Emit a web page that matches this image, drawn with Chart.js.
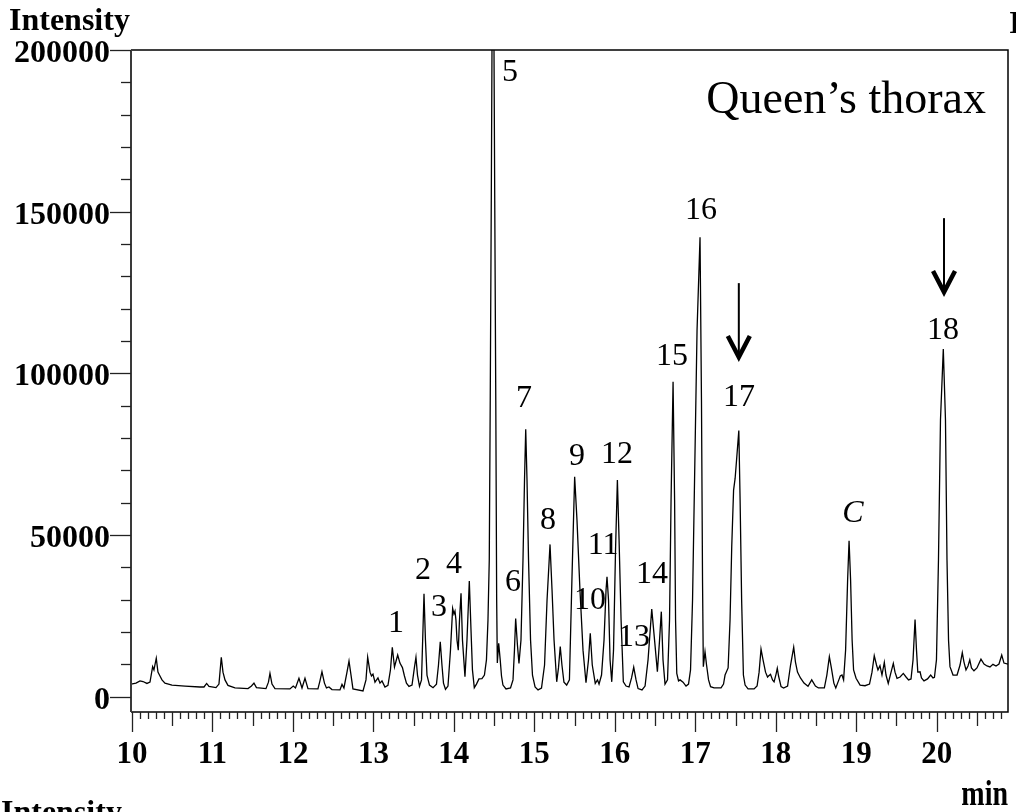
<!DOCTYPE html>
<html>
<head>
<meta charset="utf-8">
<script src="https://cdn.jsdelivr.net/npm/chart.js@4.4.1/dist/chart.umd.min.js"></script>
<style>
  html, body { margin: 0; padding: 0; background: #fff; }
  #wrap { width: 1016px; height: 812px; position: relative; }
  canvas { display: block; }
</style>
</head>
<body>
<div id="wrap"><canvas id="chrom" width="1016" height="812"></canvas></div>
<script>
// retention time (min) and intensity
var times = [
  9.988, 10.05, 10.10, 10.137, 10.186, 10.224, 10.257, 10.273, 10.302, 10.323,
  10.348, 10.373, 10.41, 10.497, 10.659, 10.845, 10.895, 10.928, 10.957, 11.044,
  11.081, 11.11, 11.131, 11.156, 11.193, 11.28, 11.442, 11.485, 11.516, 11.547,
  11.665, 11.696, 11.715, 11.74, 11.777, 11.963, 12.004, 12.032, 12.075, 12.113,
  12.15, 12.187, 12.311, 12.336, 12.361, 12.392, 12.417, 12.448, 12.485, 12.585,
  12.61, 12.634, 12.672, 12.697, 12.722, 12.746, 12.871, 12.908, 12.929, 12.958,
  12.976, 12.995, 13.02, 13.057, 13.082, 13.107, 13.144, 13.181, 13.212, 13.235,
  13.262, 13.302, 13.33, 13.361, 13.386, 13.411, 13.442, 13.48, 13.511, 13.529,
  13.548, 13.573, 13.598, 13.616, 13.629, 13.647, 13.666, 13.697, 13.741, 13.784,
  13.809, 13.831, 13.852, 13.871, 13.896, 13.927, 13.958, 13.985, 14.001, 14.014,
  14.026, 14.039, 14.055, 14.07, 14.089, 14.107, 14.138, 14.163, 14.192, 14.213,
  14.231, 14.254, 14.281, 14.312, 14.349, 14.38, 14.405, 14.424, 14.44, 14.452,
  14.465, 14.486, 14.508, 14.521, 14.532, 14.54, 14.557, 14.576, 14.592, 14.61,
  14.648, 14.704, 14.735, 14.753, 14.768, 14.79, 14.809, 14.834, 14.859, 14.878,
  14.893, 14.909, 14.928, 14.953, 14.977, 15.009, 15.046, 15.089, 15.127, 15.158,
  15.195, 15.22, 15.245, 15.278, 15.3, 15.322, 15.343, 15.368, 15.402, 15.436,
  15.467, 15.501, 15.53, 15.567, 15.605, 15.642, 15.673, 15.695, 15.72, 15.757,
  15.785, 15.804, 15.835, 15.866, 15.891, 15.903, 15.922, 15.941, 15.962, 15.984,
  16.009, 16.032, 16.053, 16.078, 16.106, 16.14, 16.177, 16.208, 16.235, 16.264,
  16.289, 16.338, 16.376, 16.413, 16.459, 16.494, 16.529, 16.556, 16.578, 16.599,
  16.624, 16.655, 16.68, 16.699, 16.724, 16.743, 16.755, 16.77, 16.792, 16.811,
  16.848, 16.885, 16.916, 16.941, 16.966, 16.991, 17.022, 17.059, 17.077, 17.09,
  17.1, 17.121, 17.14, 17.165, 17.19, 17.233, 17.32, 17.351, 17.37, 17.408,
  17.432, 17.453, 17.476, 17.495, 17.513, 17.541, 17.557, 17.576, 17.598, 17.619,
  17.656, 17.731, 17.768, 17.793, 17.817, 17.842, 17.873, 17.898, 17.91, 17.935,
  17.96, 17.979, 18.004, 18.019, 18.035, 18.066, 18.097, 18.147, 18.184, 18.223,
  18.245, 18.27, 18.307, 18.351, 18.401, 18.447, 18.493, 18.53, 18.604, 18.635,
  18.666, 18.691, 18.722, 18.746, 18.784, 18.802, 18.823, 18.843, 18.868, 18.893,
  18.911, 18.93, 18.949, 18.967, 18.998, 19.048, 19.109, 19.165, 19.196, 19.224,
  19.252, 19.27, 19.295, 19.32, 19.349, 19.37, 19.398, 19.433, 19.461, 19.482,
  19.507, 19.545, 19.585, 19.619, 19.65, 19.681, 19.706, 19.731, 19.749, 19.765,
  19.793, 19.811, 19.842, 19.886, 19.925, 19.954, 19.972, 19.997, 20.022, 20.047,
  20.082, 20.109, 20.128, 20.147, 20.165, 20.203, 20.253, 20.29, 20.318, 20.339,
  20.364, 20.389, 20.411, 20.432, 20.463, 20.5, 20.55, 20.588, 20.625, 20.662,
  20.699, 20.737, 20.774, 20.808, 20.836, 20.886
];

var intensities = [
  3900, 4200, 4900, 4700, 4100, 4500, 9300, 8300, 11900, 7600,
  6400, 5200, 4200, 3600, 3300, 3000, 3000, 4100, 3200, 2800,
  3900, 12200, 7600, 5200, 3500, 2700, 2500, 3300, 4200, 2800,
  2500, 4500, 7200, 3900, 2500, 2400, 3300, 2700, 5700, 2700,
  5700, 2500, 2400, 4900, 7700, 4200, 2700, 3000, 2200, 2100,
  3800, 2700, 7600, 11000, 6700, 2400, 1800, 5200, 12200, 7600,
  6400, 7000, 4500, 5800, 4200, 4900, 3000, 3500, 8300, 15300,
  9200, 12900, 10400, 9000, 6400, 4200, 3200, 3600, 9200, 12200,
  6700, 3200, 5200, 20600, 31800, 17500, 6700, 3600, 2800, 3900,
  9800, 17000, 9800, 4200, 2300, 3300, 14400, 27300, 25600, 26500,
  23700, 17500, 14400, 23700, 32000, 17500, 6200, 17500, 35800, 20600,
  8300, 2800, 3900, 5500, 5600, 6700, 11400, 23700, 42300, 91700,
  153500, 265000, 153500, 91700, 29900, 10400, 16500, 11400, 6400, 3600,
  2400, 2700, 5200, 14400, 24200, 16000, 10300, 17500, 42300, 67000,
  82700, 67000, 42300, 17500, 6700, 3000, 2100, 2700, 9800, 29900,
  47100, 33000, 17500, 4600, 8900, 15500, 9800, 4500, 3600, 5200,
  36100, 68000, 54600, 33000, 14400, 4300, 11400, 19600, 9800, 4100,
  5200, 3900, 6700, 17500, 33000, 37100, 29900, 11400, 4600, 14400,
  45400, 67000, 48500, 23700, 4600, 3300, 3000, 5800, 9100, 5200,
  2500, 2100, 3300, 11400, 27100, 17500, 7700, 17500, 26300, 11400,
  3900, 5200, 23700, 60800, 97400, 60800, 23700, 7200, 4900, 5200,
  4500, 3300, 3900, 8300, 29900, 67000, 113400, 142100, 91700, 36100,
  9300, 13900, 9800, 5200, 3100, 2700, 2700, 3900, 6700, 8900,
  23700, 46400, 63900, 67500, 73200, 82300, 60800, 29900, 6700, 3600,
  2400, 2400, 3300, 7600, 14700, 11400, 7600, 6100, 6400, 6900,
  5200, 4600, 7000, 8800, 6400, 3100, 2700, 3300, 9800, 15300,
  10700, 7600, 5800, 4200, 3200, 5200, 3300, 2700, 2700, 6700,
  12400, 8900, 4200, 2700, 5200, 6400, 6700, 5200, 14400, 36100,
  48200, 36100, 17500, 8300, 5700, 3600, 3400, 3900, 7600, 12700,
  9800, 8300, 9600, 6700, 10600, 6700, 4100, 7600, 10300, 7600,
  5700, 6100, 7200, 6100, 5200, 5500, 11400, 23900, 14400, 7600,
  7700, 5800, 4900, 5500, 6700, 5800, 6000, 11400, 42300, 85600,
  107500, 85600, 42300, 17500, 9300, 6700, 6700, 9800, 13600, 10700,
  8300, 9500, 11400, 8900, 8000, 8900, 11600, 10100, 9500, 9200,
  10000, 9500, 10100, 12900, 10400, 10100
];

var xTickLabels = [10, 11, 12, 13, 14, 15, 16, 17, 18, 19, 20];
var yTickLabels = [0, 50000, 100000, 150000, 200000];

// peak numbers, placed at (time, intensity)
var peakNames = ["1", "2", "3", "4", "5", "6", "7", "8", "9", "10", "11", "12", "13", "14", "15", "16", "17", "18", "C"];
var peakLabelTimes = [13.281, 13.616, 13.815, 14.001, 14.697, 14.735, 14.871, 15.17, 15.53, 15.692, 15.854, 16.028, 16.24, 16.462, 16.711, 17.071, 17.543, 20.078, 18.96];
var peakLabelLevels = [23400, 39800, 28400, 41700, 193800, 36100, 93000, 55300, 75100, 30500, 47500, 75700, 19100, 38600, 106000, 151100, 93300, 114000, 57400];

// arrows above peaks 17 and 18
var arrowTimes = [17.541, 20.091];
var arrowFrom = [127900, 148000];
var arrowTo = [103500, 123600];

var SERIF = '"Liberation Serif", "Times New Roman", serif';

function drawArrow(ctx, x, yTop, yTip) {
  ctx.strokeStyle = "#000";
  ctx.lineWidth = 2;
  ctx.beginPath();
  ctx.moveTo(x, yTop);
  ctx.lineTo(x, yTip - 4);
  ctx.stroke();
  ctx.lineWidth = 4.5;
  ctx.lineJoin = "miter";
  ctx.beginPath();
  ctx.moveTo(x - 11, yTip - 26);
  ctx.lineTo(x, yTip - 5);
  ctx.lineTo(x + 11, yTip - 26);
  ctx.stroke();
}

var framePlugin = {
  id: "chromFrame",
  afterDraw: function (chart) {
    var ctx = chart.ctx;
    var xs = chart.scales.x;
    var ys = chart.scales.y;
    var a = chart.chartArea;
    var i, v, px, py, len;

    ctx.save();

    // box: top + right thin, left axis gray, bottom axis black
    ctx.strokeStyle = "#000";
    ctx.lineWidth = 1.5;
    ctx.beginPath();
    ctx.moveTo(a.left, a.top);
    ctx.lineTo(a.right, a.top);
    ctx.lineTo(a.right, a.bottom);
    ctx.lineTo(a.left, a.bottom);
    ctx.stroke();
    ctx.strokeStyle = "#3a3a3a";
    ctx.lineWidth = 2;
    ctx.beginPath();
    ctx.moveTo(a.left, a.top);
    ctx.lineTo(a.left, a.bottom);
    ctx.stroke();

    // y ticks (outside, to the left)
    ctx.strokeStyle = "#222";
    ctx.lineWidth = 1.3;
    for (v = 0; v <= 200000; v += 10000) {
      py = Math.round(ys.getPixelForValue(v)) + 0.5;
      len = v % 50000 === 0 ? 21 : 10;
      ctx.beginPath();
      ctx.moveTo(a.left - len, py);
      ctx.lineTo(a.left, py);
      ctx.stroke();
    }

    // x ticks (below the axis)
    for (i = 100; i <= 208; i++) {
      px = Math.round(xs.getPixelForValue(i / 10)) + 0.5;
      len = i % 10 === 0 ? 20 : (i % 5 === 0 ? 14 : 7);
      ctx.beginPath();
      ctx.moveTo(px, a.bottom);
      ctx.lineTo(px, a.bottom + len);
      ctx.stroke();
    }

    // tick labels
    ctx.fillStyle = "#000";
    ctx.font = "bold 32px " + SERIF;
    ctx.textAlign = "right";
    ctx.textBaseline = "alphabetic";
    yTickLabels.forEach(function (val) {
      ctx.fillText(String(val), 110, ys.getPixelForValue(val) + 12);
    });
    ctx.textAlign = "center";
    ctx.font = "bold 31px " + SERIF;
    xTickLabels.forEach(function (val) {
      ctx.fillText(String(val), xs.getPixelForValue(val), 763);
    });

    // axis titles
    ctx.font = "bold 32px " + SERIF;
    ctx.textAlign = "left";
    ctx.fillText("Intensity", 9, 30);
    ctx.fillText("Intensity", 1, 822);
    ctx.fillText("I", 1009, 33);
    ctx.save();
    ctx.translate(1008, 805);
    ctx.scale(0.8, 1);
    ctx.textAlign = "right";
    ctx.font = "bold 35px " + SERIF;
    ctx.fillText("min", 0, 0);
    ctx.restore();

    // sample name
    ctx.font = "46px " + SERIF;
    ctx.textAlign = "right";
    ctx.fillText("Queen\u2019s thorax", a.right - 22, 113);

    // peak labels
    ctx.textAlign = "center";
    for (i = 0; i < peakNames.length; i++) {
      ctx.font = (peakNames[i] === "C" ? "italic " : "") + "32px " + SERIF;
      ctx.fillText(peakNames[i], xs.getPixelForValue(peakLabelTimes[i]), ys.getPixelForValue(peakLabelLevels[i]) + 11);
    }

    // arrows
    for (i = 0; i < arrowTimes.length; i++) {
      drawArrow(ctx, xs.getPixelForValue(arrowTimes[i]), ys.getPixelForValue(arrowFrom[i]), ys.getPixelForValue(arrowTo[i]));
    }

    ctx.restore();
  }
};

var points = times.map(function (t, i) {
  return { x: t, y: intensities[i] };
});

new Chart(document.getElementById("chrom").getContext("2d"), {
  type: "line",
  data: {
    datasets: [{
      data: points,
      borderColor: "#000",
      borderWidth: 1.3,
      pointRadius: 0,
      tension: 0,
      fill: false
    }]
  },
  options: {
    responsive: false,
    animation: false,
    events: [],
    layout: { padding: { left: 131, right: 8, top: 50, bottom: 100 } },
    plugins: {
      legend: { display: false },
      tooltip: { enabled: false }
    },
    scales: {
      x: { type: "linear", min: 9.988, max: 20.886, display: false },
      y: { type: "linear", min: -4730, max: 200000, display: false }
    }
  },
  plugins: [framePlugin]
});
</script>
</body>
</html>
